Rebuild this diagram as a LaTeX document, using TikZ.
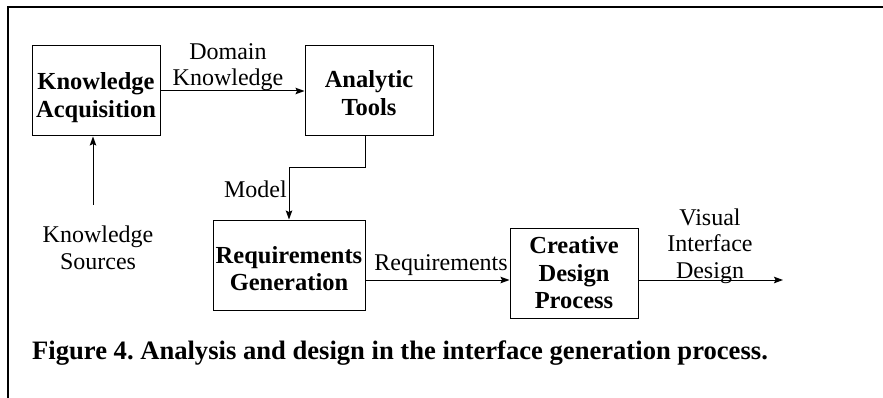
\documentclass[tikz,border=0pt]{standalone}
\usepackage{fontspec}
\setmainfont{Liberation Serif}
\usetikzlibrary{arrows.meta}
\frenchspacing
\begin{document}
\begin{tikzpicture}[x=1pt,y=-1pt,
  box/.style={draw, line width=1pt, inner sep=0pt, minimum width=128pt, minimum height=90pt},
  boxtext/.style={font=\fontsize{24.5}{27.5}\selectfont\bfseries, align=center, inner sep=0pt},
  lbl/.style={font=\fontsize{24}{26.5}\selectfont, align=center, inner sep=0pt},
  flow/.style={line width=1pt, -{Stealth[length=9pt,width=6.5pt,inset=1.5pt]}},
  frame/.style={line width=2pt}
]
\useasboundingbox (0,0) rectangle (883,398);

% page frame (top and left rules)
\draw[frame] (7.5,398) -- (7.5,7.5) -- (883,7.5);

% process boxes
\node[box] (ka) at (96,91) {};
\node[box] (at) at (369,91) {};
\node[box, minimum width=152pt] (rg) at (289,265) {};
\node[box] (cdp) at (574,273) {};

\node[boxtext] (ka-t) at ([yshift=-6.5pt]ka.center) {Knowledge\\Acquisition};
\node[boxtext] (at-t) at ([yshift=-2pt]at.center) {Analytic\\Tools};
\node[boxtext] (rg-t) at ([yshift=-3.5pt]rg.center) {Requirements\\Generation};
\node[boxtext] (cdp-t) at (cdp.center) {Creative\\Design\\Process};

% free ends
\coordinate (src) at (93,205);
\coordinate (out) at (783,280);

% connectors
\draw[flow] (ka.east) -- (at.west);
\draw[flow] ([xshift=-4pt]at.south) -- ++(0,31) -| (rg.north);
\draw[flow] ([yshift=-15pt]rg.east) -- ([yshift=-15pt]rg.east -| cdp.west);
\draw[flow] (cdp.east |- out) -- (out);
\draw[flow] (src) -- (src |- ka.south);

% connector labels
\node[lbl] (dk) at (228,67) {Domain\\Knowledge};
\node[lbl, anchor=base east] (model) at (287,197) {Model};
\node[lbl] (ks) at (98,248) {Knowledge\\Sources};
\node[lbl, anchor=base] (req) at (441,270) {Requirements};
\node[lbl] (vid) at (710,246) {Visual\\Interface\\Design};

% caption
\node[font=\fontsize{26.6}{30}\selectfont\bfseries, anchor=base west, inner sep=0pt] (cap) at (32,359)
  {Figure 4. Analysis and design in the interface generation process.};
\end{tikzpicture}
\end{document}
